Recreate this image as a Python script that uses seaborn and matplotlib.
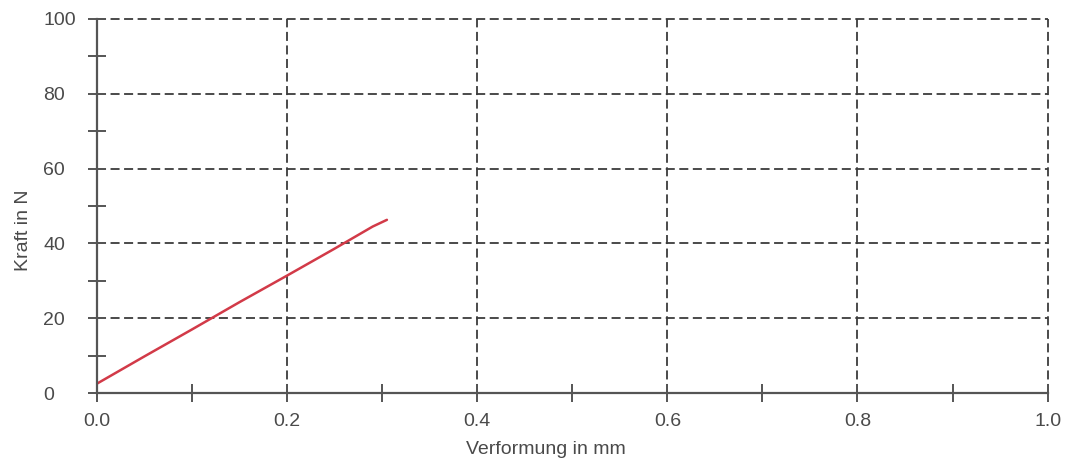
import matplotlib
matplotlib.use("Agg")
import matplotlib.pyplot as plt
from matplotlib.ticker import MultipleLocator, FormatStrFormatter
import seaborn as sns
import pandas as pd

verformung = [0.0, 0.05, 0.10, 0.15, 0.20, 0.25, 0.29, 0.305]
kraft = [2.5, 9.8, 17.0, 24.3, 31.4, 38.6, 44.5, 46.3]

sns.set_theme(style="white")
plt.rcParams['font.family'] = ['Liberation Sans', 'DejaVu Sans']

df = pd.DataFrame({"x": verformung, "y": kraft})
fig = plt.figure(figsize=(10.69, 4.61), dpi=100)
ax = fig.add_axes([0.0907, 0.1475, 0.8893, 0.8113])

sns.lineplot(data=df, x="x", y="y", ax=ax, color="#d23a48", linewidth=1.8, sort=False)

ax.set_xlim(0, 1.0)
ax.set_ylim(0, 100)
ax.xaxis.set_major_locator(MultipleLocator(0.2))
ax.xaxis.set_minor_locator(MultipleLocator(0.1))
ax.yaxis.set_major_locator(MultipleLocator(20))
ax.yaxis.set_minor_locator(MultipleLocator(10))
ax.xaxis.set_major_formatter(FormatStrFormatter('%.1f'))

ax.grid(True, which="major", color="#3c3c3c", linestyle=(0, (5, 2.5)), linewidth=1.3)
for s in ["top", "right"]:
    ax.spines[s].set_visible(False)
for s in ["left", "bottom"]:
    ax.spines[s].set_color("#555555")
    ax.spines[s].set_linewidth(1.6)
ax.set_axisbelow(True)

ax.tick_params(which="both", direction="inout", length=13, width=1.4, color="#555555",
               labelsize=14, labelcolor="#4a4a4a", left=True, bottom=True)
ax.tick_params(axis="x", pad=8)
ax.tick_params(axis="y", pad=32)
ax.set_xlabel("Verformung in mm", fontsize=14, color="#4a4a4a")
ax.set_ylabel("Kraft in N", fontsize=14, color="#4a4a4a")
ax.xaxis.set_label_coords(0.472, -0.128)
ax.yaxis.set_label_coords(-0.0683, 0.436)

fig.canvas.draw()
for lab in ax.get_yticklabels():
    lab.set_horizontalalignment("left")
for line in ax.get_xgridlines() + ax.get_ygridlines():
    line.set_clip_on(False)

fig.savefig("out.png", dpi=100, facecolor="white")
